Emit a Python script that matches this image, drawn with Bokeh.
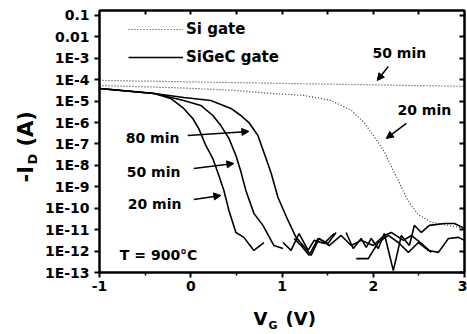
import numpy as np
from math import pi
from bokeh.plotting import figure
from bokeh.layouts import row, column
from bokeh.models import (Range1d, FixedTicker, CustomJSTickFormatter, LogAxis,
                          LinearAxis, Label, Arrow, NormalHead, Legend, LegendItem)
from bokeh.embed import file_html
from bokeh.resources import INLINE

nan = float("nan")

# ---- data: gate voltage (V) and log10(-I_D / A) ----
vg_si_50 = [-1.0, 0.0, 1.0, 2.0, 3.0]
logid_si_50 = [-4.03, -4.10, -4.17, -4.24, -4.31]

vg_si_20 = [-1.0, -0.5, 0.0, 0.5, 0.88, 1.24, 1.54, 1.76, 1.90, 2.01, 2.12,
            2.22, 2.31, 2.38, 2.49, 2.64, 2.82, 3.0]
logid_si_20 = [-4.27, -4.33, -4.40, -4.50, -4.64, -4.73, -4.97, -5.43, -6.0,
               -6.65, -7.35, -8.24, -9.03, -9.64, -10.29, -10.66, -10.80, -10.94]

vg_sigec_20 = [-1.0, -0.4, -0.22, -0.077, 0.022, 0.088, 0.165, 0.242, 0.308,
               0.363, 0.418, 0.495, 0.582, 0.692, 0.802, nan, 1.011, 1.099,
               1.187, 1.286, 1.352, 1.462, 1.571, nan, 1.813, 1.945, 2.055,
               2.165, 2.275, 2.385, 2.495, 2.604, 2.714, 2.824, 2.934, 3.0]
logid_sigec_20 = [-4.41, -4.64, -4.87, -5.34, -5.81, -6.28, -7.07, -7.68, -8.47,
                  -9.17, -10.10, -11.13, -11.36, -11.97, -11.60, nan, -11.60,
                  -11.97, -11.18, -11.97, -11.50, -11.64, -11.18, nan, -12.35,
                  -12.35, -11.60, -11.27, -11.60, -12.06, -11.60, -11.97,
                  -12.06, -11.41, -11.36, -11.50]

vg_sigec_50 = [-1.0, -0.4, -0.077, 0.11, 0.242, 0.33, 0.418, 0.495, 0.55, 0.604,
               0.692, 0.791, 0.912, 1.011, nan, 1.132, 1.209, 1.297, 1.396,
               1.505, 1.593, nan, 1.703, 1.780, 1.868, 1.923, 1.978, 2.055,
               2.121, 2.220, 2.308, 2.396, 2.451, 2.527, 2.615, 2.780, 2.890, 3.0]
logid_sigec_50 = [-4.41, -4.64, -4.97, -5.20, -5.67, -6.14, -6.74, -7.54, -8.30,
                  -9.17, -10.24, -10.80, -11.74, -11.88, nan, -11.41, -11.74,
                  -12.20, -11.41, -11.64, -11.13, nan, -11.13, -11.88, -11.41,
                  -11.83, -11.41, -11.88, -11.18, -12.91, -11.27, -11.74,
                  -10.80, -11.13, -10.80, -10.71, -10.71, -10.94]

vg_sigec_80 = [-1.0, -0.4, -0.077, 0.22, 0.44, 0.549, 0.637, 0.736, 0.802,
               0.879, 0.956, 1.066, 1.154, 1.231, 1.319, 1.407, 1.516, 1.648,
               1.758, 1.868, 2.0, 2.121, 2.198, 2.330, 2.418, 2.527, 2.637]
logid_sigec_80 = [-4.41, -4.64, -4.83, -4.97, -5.34, -5.67, -6.0, -6.60, -7.40,
                  -8.33, -9.50, -10.57, -11.36, -11.74, -12.20, -11.41, -11.74,
                  -11.27, -11.74, -11.50, -11.74, -11.27, -11.13, -11.50,
                  -11.27, -11.64, -12.06]

y_tick_exps = [-1, -2, -3, -4, -5, -6, -7, -8, -9, -10, -11, -12, -13]
y_tick_labels = ["0.1", "0.01", "1E-3", "1E-4", "1E-5", "1E-6", "1E-7", "1E-8",
                 "1E-9", "1E-10", "1E-11", "1E-12", "1E-13"]
x_tick_values = [-1, 0, 1, 2, 3]
x_tick_labels = ["-1", "0", "1", "2", "3"]
x_minor_values = [-0.5, 0.5, 1.5, 2.5]


def amps(logs):
    return np.power(10.0, np.array(logs, dtype=float))


FONT_NAME = "DejaVu Sans"
YLAB_W = 40
MAIN_H = 300

p = figure(width=467 - YLAB_W, height=MAIN_H, y_axis_type="log",
           x_range=Range1d(-1, 3), y_range=Range1d(10 ** -13, 10 ** -0.767),
           output_backend="svg", toolbar_location=None,
           min_border_left=99 - YLAB_W, min_border_right=3, min_border_top=10,
           min_border_bottom=MAIN_H - 272)
p.grid.visible = False
p.outline_line_color = "black"
p.outline_line_width = 2
p.background_fill_color = "white"
p.border_fill_color = "white"

y_ticks = [10.0 ** e for e in y_tick_exps]
fmt_y = CustomJSTickFormatter(args=dict(exps=y_tick_exps, labels=y_tick_labels), code="""
const e = Math.round(Math.log10(tick));
const i = exps.indexOf(e);
return i >= 0 ? labels[i] : "";
""")
fmt_x = CustomJSTickFormatter(args=dict(vals=x_tick_values, labels=x_tick_labels), code="""
const i = vals.indexOf(Math.round(tick));
return i >= 0 ? labels[i] : "";
""")
blank = CustomJSTickFormatter(code="return '';")

for ax in p.yaxis:
    ax.ticker = FixedTicker(ticks=y_ticks, minor_ticks=[])
    ax.formatter = fmt_y
for ax in p.xaxis:
    ax.ticker = FixedTicker(ticks=x_tick_values, minor_ticks=x_minor_values)
    ax.formatter = fmt_x

for ax in list(p.xaxis) + list(p.yaxis):
    ax.axis_line_width = 2
    ax.major_tick_line_width = 2
    ax.minor_tick_line_width = 1.5
    ax.major_tick_out = 5
    ax.major_tick_in = 0
    ax.minor_tick_out = 3
    ax.minor_tick_in = 0
    ax.major_label_text_font = FONT_NAME
    ax.major_label_text_font_style = "bold"
    ax.major_label_text_font_size = "14px"
    ax.major_label_text_color = "black"
p.yaxis.major_label_standoff = 5
p.xaxis.major_label_standoff = 3

right = LogAxis(ticker=FixedTicker(ticks=y_ticks, minor_ticks=[]), formatter=blank,
                major_tick_in=5, major_tick_out=0, major_tick_line_width=2,
                axis_line_width=2, major_label_text_font_size="0px",
                major_label_standoff=0)
p.add_layout(right, "right")
top = LinearAxis(ticker=FixedTicker(ticks=[-0.5, 0, 0.5, 1, 1.5, 2, 2.5], minor_ticks=[]),
                 formatter=blank, major_tick_in=4, major_tick_out=0,
                 major_tick_line_width=2, axis_line_width=2,
                 major_label_text_font_size="0px", major_label_standoff=0)
p.add_layout(top, "above")

# ---- curves ----
r_si50 = p.line(vg_si_50, amps(logid_si_50), line_color="#333333", line_width=1.2,
                line_dash="1 2")
r_si20 = p.line(vg_si_20, amps(logid_si_20), line_color="#333333", line_width=1.2,
                line_dash="1 2")
r_g20 = p.line(vg_sigec_20, amps(logid_sigec_20), line_color="black", line_width=1.6)
r_g50 = p.line(vg_sigec_50, amps(logid_sigec_50), line_color="black", line_width=1.6)
r_g80 = p.line(vg_sigec_80, amps(logid_sigec_80), line_color="black", line_width=1.6)

legend = Legend(items=[LegendItem(label="Si gate", renderers=[r_si20]),
                       LegendItem(label="SiGeC gate", renderers=[r_g20])],
                location=(29, 205), orientation="vertical",
                border_line_color=None, background_fill_alpha=0,
                padding=0, margin=0, spacing=8, glyph_width=55, glyph_height=20,
                label_height=20, label_standoff=3,
                label_text_font=FONT_NAME, label_text_font_style="bold",
                label_text_font_size="15px", label_text_color="black")
p.add_layout(legend)


def lab(text, x, y, align="center", size="14px"):
    p.add_layout(Label(text=text, x=x, y=10 ** y, text_align=align,
                       text_baseline="middle", text_font=FONT_NAME,
                       text_font_style="bold", text_font_size=size,
                       text_color="black"))


def arrow(x0, y0, x1, y1):
    p.add_layout(Arrow(end=NormalHead(size=7, fill_color="black", line_color="black"),
                       x_start=x0, y_start=10 ** y0, x_end=x1, y_end=10 ** y1,
                       line_width=1.5, line_color="black"))


lab("50 min", 2.286, -2.774)
arrow(2.165, -3.38, 2.044, -4.035)
lab("20 min", 2.56, -5.435)
arrow(2.363, -6.04, 2.143, -6.74)
lab("80 min", -0.418, -6.70)
arrow(-0.033, -6.60, 0.637, -6.415)
lab("50 min", -0.407, -8.33)
arrow(0.033, -8.14, 0.473, -7.91)
lab("20 min", -0.396, -9.78)
arrow(0.033, -9.59, 0.33, -9.40)
lab("T = 900°C", -0.352, -12.20)


# ---- axis titles with subscripts, drawn in small text-only panels ----
def text_panel(w, h):
    f = figure(width=w, height=h, x_range=Range1d(0, 1), y_range=Range1d(0, 1),
               output_backend="svg", toolbar_location=None,
               x_axis_location=None, y_axis_location=None,
               min_border=0, min_border_left=0, min_border_right=0,
               min_border_top=0, min_border_bottom=0)
    f.grid.visible = False
    f.outline_line_color = None
    f.background_fill_color = "white"
    f.border_fill_color = "white"
    return f


def slab(f, text, x, y, size, angle=0.0):
    f.add_layout(Label(text=text, x=x, y=y, x_units="screen", y_units="screen",
                       angle=angle, text_align="left", text_baseline="middle",
                       text_font=FONT_NAME, text_font_style="bold",
                       text_font_size=size, text_color="black"))


ylab = text_panel(YLAB_W, 334)
slab(ylab, "-I", 25, 152, "21px", angle=pi / 2)
slab(ylab, "D", 32, 170, "13px", angle=pi / 2)
slab(ylab, "(A)", 25, 188, "21px", angle=pi / 2)

# this panel's frame lines up with the main plot's frame (left edge at x=99)
xlab = text_panel(467 - YLAB_W, 334 - MAIN_H)
slab(xlab, "V", 253 - 99, 16, "18px")
slab(xlab, "G", 268 - 99, 9, "11px")
slab(xlab, "(V)", 285 - 99, 16, "18px")

layout = row(ylab, column(p, xlab, spacing=0), spacing=0)
open("out.html", "w").write(file_html(layout, INLINE))
